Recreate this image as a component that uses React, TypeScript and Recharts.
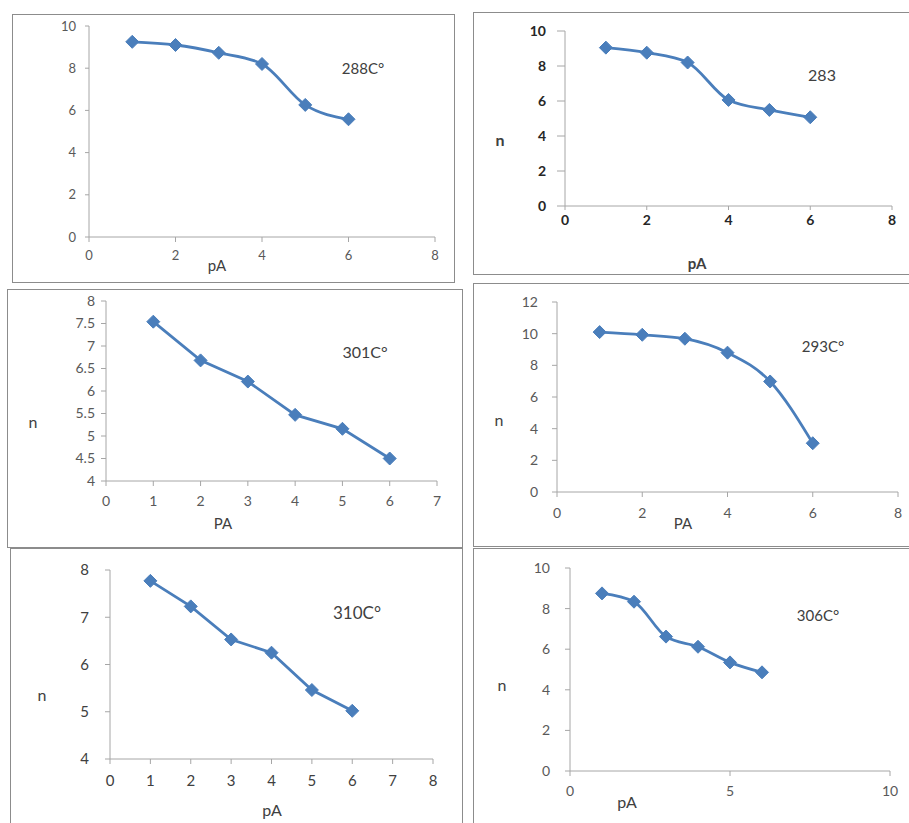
import { LineChart, Line, XAxis, YAxis } from "recharts";

// pA values shared by all six panels
const pA = [1, 2, 3, 4, 5, 6];

// n values
const n288 = [9.25, 9.1, 8.73, 8.2, 6.26, 5.58];
const n283 = [9.05, 8.76, 8.2, 6.06, 5.49, 5.07];
const n301 = [7.54, 6.68, 6.21, 5.47, 5.16, 4.5];
const n293 = [10.1, 9.93, 9.68, 8.8, 6.98, 3.08];
const n310 = [7.77, 7.23, 6.53, 6.25, 5.46, 5.02];
const n306 = [8.75, 8.34, 6.62, 6.12, 5.35, 4.86];

// tick labels
const xTicksBy2 = [0, 2, 4, 6, 8];
const xTicks0to7 = [0, 1, 2, 3, 4, 5, 6, 7];
const xTicks0to8 = [0, 1, 2, 3, 4, 5, 6, 7, 8];
const xTicksBy5 = [0, 5, 10];
const yTicks10 = [0, 2, 4, 6, 8, 10];
const yTicks12 = [0, 2, 4, 6, 8, 10, 12];
const yTicksHalf = [4, 4.5, 5, 5.5, 6, 6.5, 7, 7.5, 8];
const yTicks4to8 = [4, 5, 6, 7, 8];

const titles = ["288C°", "283", "301C°", "293C°", "310C°", "306C°"];

const BLUE = "#4a7ebb";
const AXIS = "#a6a6a6";
const XH = 30;
const YW = 40;

const toRows = (ys: number[]) => pA.map((x, i) => ({ x, y: ys[i] }));

const Diamond = (props: any) => {
  const { cx, cy, index } = props;
  if (cx == null || cy == null) return <g key={index} />;
  const r = 6.5;
  return (
    <path
      key={index}
      d={`M${cx},${cy - r}L${cx + r},${cy}L${cx},${cy + r}L${cx - r},${cy}Z`}
      fill={BLUE}
      stroke={BLUE}
    />
  );
};

const panels = [
  {
    ys: n288, xTicks: xTicksBy2, yTicks: yTicks10, curve: "monotone",
    box: { x: 12, y: 14, w: 443, h: 269 }, plot: { x0: 89, x1: 435, y0: 26, y1: 237 },
    font: { size: 13, weight: 400, fill: "#595959" }, ytm: [4, 9], xtm: [5, 9],
    title: { x: 363, y: 68, size: 15 }, xl: { t: "pA", x: 217, y: 265, size: 15, w: 400 }, yl: null,
  },
  {
    ys: n283, xTicks: xTicksBy2, yTicks: yTicks10, curve: "monotone",
    box: { x: 473, y: 12, w: 440, h: 263 }, plot: { x0: 565, x1: 892, y0: 31, y1: 206 },
    font: { size: 14, weight: 700, fill: "#262626" }, ytm: [8, 11], xtm: [4, 5],
    title: { x: 822, y: 75, size: 16 }, xl: { t: "pA", x: 697, y: 263, size: 15, w: 700 },
    yl: { x: 500, y: 140, w: 700 },
  },
  {
    ys: n301, xTicks: xTicks0to7, yTicks: yTicksHalf, curve: "linear",
    box: { x: 7, y: 289, w: 456, h: 259 }, plot: { x0: 106, x1: 437, y0: 301, y1: 481 },
    font: { size: 14, weight: 400, fill: "#595959" }, ytm: [5, 6], xtm: [5, 10],
    title: { x: 365, y: 352, size: 16 }, xl: { t: "PA", x: 223, y: 523, size: 15, w: 400 },
    yl: { x: 33, y: 422, w: 400 },
  },
  {
    ys: n293, xTicks: xTicksBy2, yTicks: yTicks12, curve: "monotone",
    box: { x: 473, y: 283, w: 438, h: 264 }, plot: { x0: 557, x1: 898, y0: 302, y1: 492 },
    font: { size: 14, weight: 400, fill: "#595959" }, ytm: [5, 14], xtm: [5, 11],
    title: { x: 823, y: 346, size: 15 }, xl: { t: "PA", x: 683, y: 523, size: 15, w: 400 },
    yl: { x: 499, y: 420, w: 400 },
  },
  {
    ys: n310, xTicks: xTicks0to8, yTicks: yTicks4to8, curve: "linear",
    box: { x: 10, y: 548, w: 453, h: 290 }, plot: { x0: 110, x1: 433, y0: 570, y1: 759 },
    font: { size: 15, weight: 400, fill: "#404040" }, ytm: [5, 16], xtm: [5, 11],
    title: { x: 357, y: 612, size: 17 }, xl: { t: "pA", x: 272, y: 810, size: 16, w: 400 },
    yl: { x: 42, y: 695, w: 400 },
  },
  {
    ys: n306, xTicks: xTicksBy5, yTicks: yTicks10, curve: "monotone",
    box: { x: 473, y: 548, w: 438, h: 290 }, plot: { x0: 570, x1: 890, y0: 568, y1: 771 },
    font: { size: 14, weight: 400, fill: "#595959" }, ytm: [5, 15], xtm: [5, 10],
    title: { x: 818, y: 615, size: 15 }, xl: { t: "pA", x: 627, y: 802, size: 16, w: 400 },
    yl: { x: 502, y: 685, w: 400 },
  },
];

const Text = ({ t, x, y, size, w }: { t: string; x: number; y: number; size: number; w?: number }) => (
  <div
    style={{
      position: "absolute", left: x, top: y, transform: "translate(-50%, -50%)",
      fontSize: size, fontWeight: w || 400, color: "#404040", whiteSpace: "nowrap", lineHeight: 1,
    }}
  >
    {t}
  </div>
);

const Panel = ({ p, i }: { p: any; i: number }) => {
  const { box, plot } = p;
  const margin = {
    top: plot.y0 - box.y,
    bottom: box.y + box.h - plot.y1 - XH,
    left: plot.x0 - box.x - YW,
    right: box.x + box.w - plot.x1,
  };
  const tick = { fontSize: p.font.size, fontWeight: p.font.weight, fill: p.font.fill };
  const xs = p.xTicks;
  const yt = p.yTicks;
  return (
    <>
      <div
        style={{
          position: "absolute", left: box.x, top: box.y, width: box.w, height: box.h,
          border: "1.5px solid #8c8c8c", boxSizing: "border-box", background: "#fff",
        }}
      />
      <div style={{ position: "absolute", left: box.x, top: box.y }}>
        <LineChart width={box.w} height={box.h} data={toRows(p.ys)} margin={margin}>
          <XAxis
            type="number" dataKey="x" domain={[xs[0], xs[xs.length - 1]]} ticks={xs}
            height={XH} interval={0} tick={tick} tickSize={p.xtm[0]} tickMargin={p.xtm[1]}
            axisLine={{ stroke: AXIS }} tickLine={{ stroke: AXIS }}
          />
          <YAxis
            type="number" dataKey="y" domain={[yt[0], yt[yt.length - 1]]} ticks={yt}
            width={YW} interval={0} tick={tick} tickSize={p.ytm[0]} tickMargin={p.ytm[1]}
            axisLine={{ stroke: AXIS }} tickLine={{ stroke: AXIS }}
          />
          <Line
            type={p.curve} dataKey="y" stroke={BLUE} strokeWidth={2.8}
            dot={Diamond} activeDot={false} isAnimationActive={false}
          />
        </LineChart>
      </div>
      <Text t={titles[i]} x={p.title.x} y={p.title.y} size={p.title.size} />
      <Text t={p.xl.t} x={p.xl.x} y={p.xl.y} size={p.xl.size} w={p.xl.w} />
      {p.yl && <Text t="n" x={p.yl.x} y={p.yl.y} size={16} w={p.yl.w} />}
    </>
  );
};

export default function App() {
  return (
    <div
      style={{
        position: "absolute", left: 0, top: 0, width: 909, height: 823, overflow: "hidden",
        background: "#fff", fontFamily: "Lato, 'Open Sans', sans-serif",
      }}
    >
      {panels.map((p, i) => (
        <Panel key={i} p={p} i={i} />
      ))}
    </div>
  );
}
